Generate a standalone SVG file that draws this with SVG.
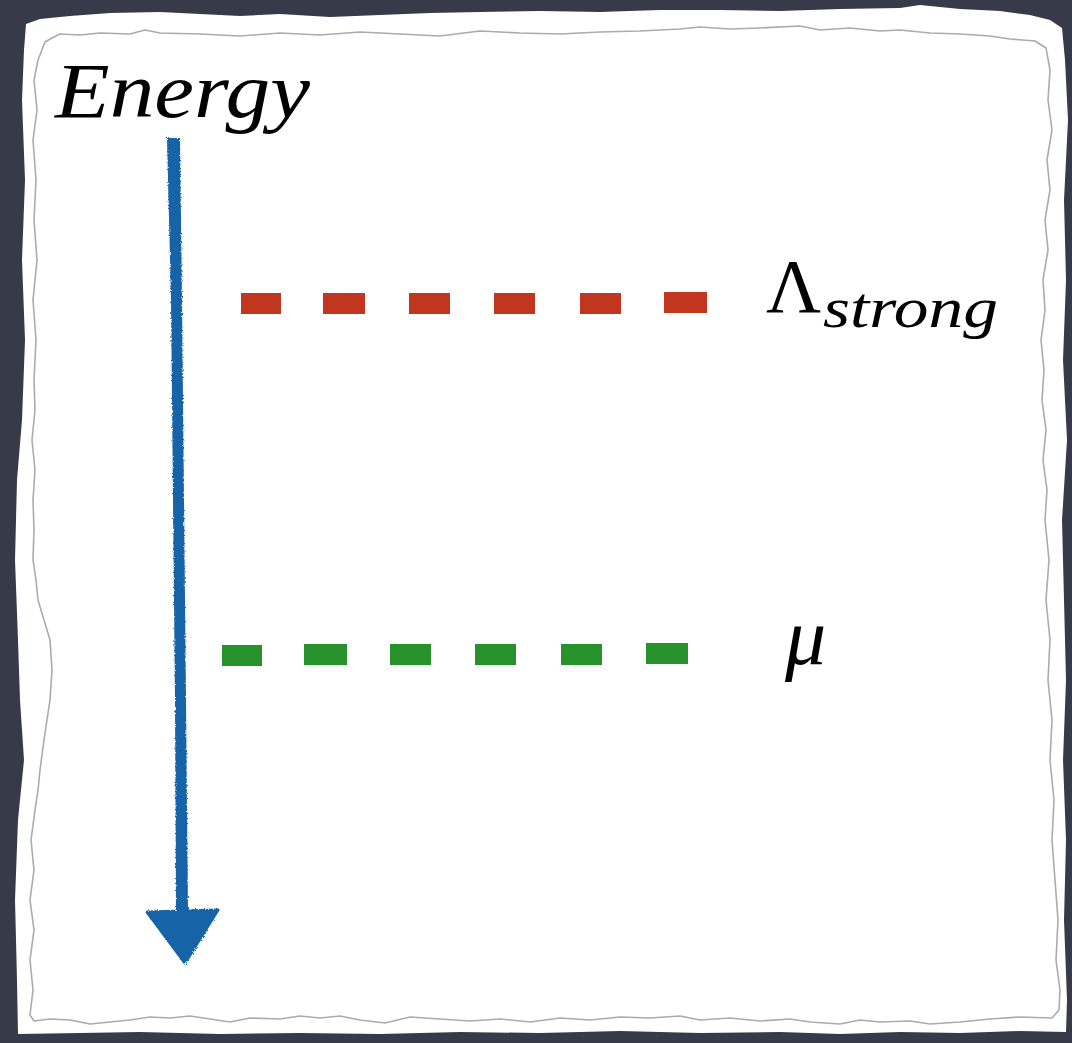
<svg xmlns="http://www.w3.org/2000/svg" width="1072" height="1043" viewBox="0 0 1072 1043">
<style>
.txt{font-family:"Liberation Serif","DejaVu Serif",serif;fill:#000}
.it{font-style:italic}
.red{fill:#c1361f}
.green{fill:#27912b}
.blue{fill:#1763a8}
</style>
<defs>
<filter id="rough" x="-10%" y="-2%" width="120%" height="104%">
<feTurbulence type="fractalNoise" baseFrequency="0.6" numOctaves="2" seed="3" result="n"/>
<feDisplacementMap in="SourceGraphic" in2="n" scale="3"/>
</filter>
</defs>
<g id="background">
<rect x="0" y="0" width="1072" height="1043" fill="#373b49"/>
<path id="paper" fill="#ffffff" d="M26,24 L40,19 L70,16 L110,13 L160,12 L200,14 L240,16 L280,14 L330,17 L380,15 L430,13 L480,12 L540,11 L600,12 L660,10 L720,10 L780,11 L840,9 L900,8 L920,5 L960,9 L1000,11 L1030,15 L1050,20 L1062,28 L1065,60 L1068,120 L1064,200 L1066,280 L1063,360 L1067,440 L1062,520 L1064,600 L1066,680 L1063,760 L1066,840 L1064,920 L1067,1000 L1066,1032 L1020,1031 L960,1033 L900,1032 L840,1034 L780,1032 L700,1033 L620,1031 L540,1033 L460,1032 L380,1034 L300,1033 L220,1034 L140,1032 L80,1033 L18,1034 L17,980 L15,900 L18,820 L24,760 L20,700 L18,640 L15,560 L17,480 L22,420 L25,340 L22,260 L25,180 L22,100 L24,50 Z"/>
<path id="inner-edge" fill="none" stroke="#ababab" stroke-width="1.6" stroke-linejoin="round" d="M52,38 L60,34 L80,35 L100,33 L130,34 L145,30 L160,33 L200,34 L240,36 L280,33 L320,35 L360,32 L400,34 L440,36 L480,31 L520,33 L560,34 L600,32 L640,31 L680,29 L700,27 L730,29 L760,28 L800,26 L820,30 L850,28 L880,31 L900,30 L930,33 L960,34 L990,36 L1010,39 L1035,41 L1046,48 L1050,70 L1048,100 L1052,130 L1047,160 L1050,190 L1045,220 L1048,250 L1043,280 L1045,310 L1041,340 L1044,370 L1042,400 L1046,430 L1043,460 L1047,490 L1045,520 L1049,560 L1046,600 L1050,640 L1048,680 L1052,720 L1050,760 L1054,800 L1052,840 L1055,880 L1058,920 L1056,960 L1060,990 L1059,1010 L1052,1018 L1020,1017 L990,1019 L960,1022 L930,1024 L910,1021 L880,1022 L860,1020 L840,1024 L810,1022 L790,1019 L760,1021 L730,1018 L700,1020 L680,1016 L650,1018 L620,1017 L590,1020 L560,1018 L530,1022 L500,1019 L470,1021 L440,1019 L410,1017 L385,1023 L360,1020 L340,1016 L320,1018 L300,1016 L280,1019 L250,1018 L230,1022 L210,1019 L190,1016 L170,1018 L150,1017 L130,1020 L110,1022 L90,1024 L70,1020 L50,1019 L34,1021 L30,1015 L33,990 L30,960 L34,930 L30,900 L34,870 L31,840 L35,810 L38,790 L40,770 L44,740 L47,720 L50,700 L52,670 L50,640 L44,620 L38,600 L36,580 L33,560 L34,530 L33,500 L35,470 L32,440 L35,410 L34,380 L36,340 L33,300 L37,260 L34,220 L36,180 L33,140 L37,110 L34,80 L38,60 L45,42 Z"/>
</g>
<g id="connectors">
<g id="energy-arrow" filter="url(#rough)">
<path d="M167,138 L180,138 L182,300 L184,500 L186,700 L188,912 L176,912 L175,700 L173,500 L171,300 Z" class="blue"/>
<polygon points="147,912 218,910 185,963" class="blue" stroke="#1763a8" stroke-width="3" stroke-linejoin="round"/>
</g>
</g>
<g id="lambda-strong-level">
<rect x="241" y="293" width="40" height="21" class="red"/>
<rect x="323" y="293" width="42" height="21" class="red"/>
<rect x="409" y="293" width="41" height="21" class="red"/>
<rect x="494" y="293" width="41" height="21" class="red"/>
<rect x="580" y="293" width="41" height="21" class="red"/>
<rect x="664" y="292" width="43" height="21" class="red"/>
</g>
<g id="mu-level">
<rect x="222" y="645" width="40" height="21" class="green"/>
<rect x="304" y="644" width="43" height="21" class="green"/>
<rect x="390" y="644" width="41" height="21" class="green"/>
<rect x="475" y="644" width="41" height="21" class="green"/>
<rect x="561" y="644" width="41" height="21" class="green"/>
<rect x="646" y="643" width="42" height="21" class="green"/>
</g>
<g id="energy-label">
<text class="txt it" x="55" y="117" font-size="78" textLength="255" lengthAdjust="spacingAndGlyphs">Energy</text>
</g>
<g id="lambda-label">
<text class="txt" x="766" y="312" font-size="76">Λ</text>
<text class="txt it" x="823" y="327" font-size="58" textLength="175" lengthAdjust="spacingAndGlyphs">strong</text>
</g>
<g id="mu-label">
<text class="txt it" x="785" y="664" font-size="82">μ</text>
</g>
</svg>
